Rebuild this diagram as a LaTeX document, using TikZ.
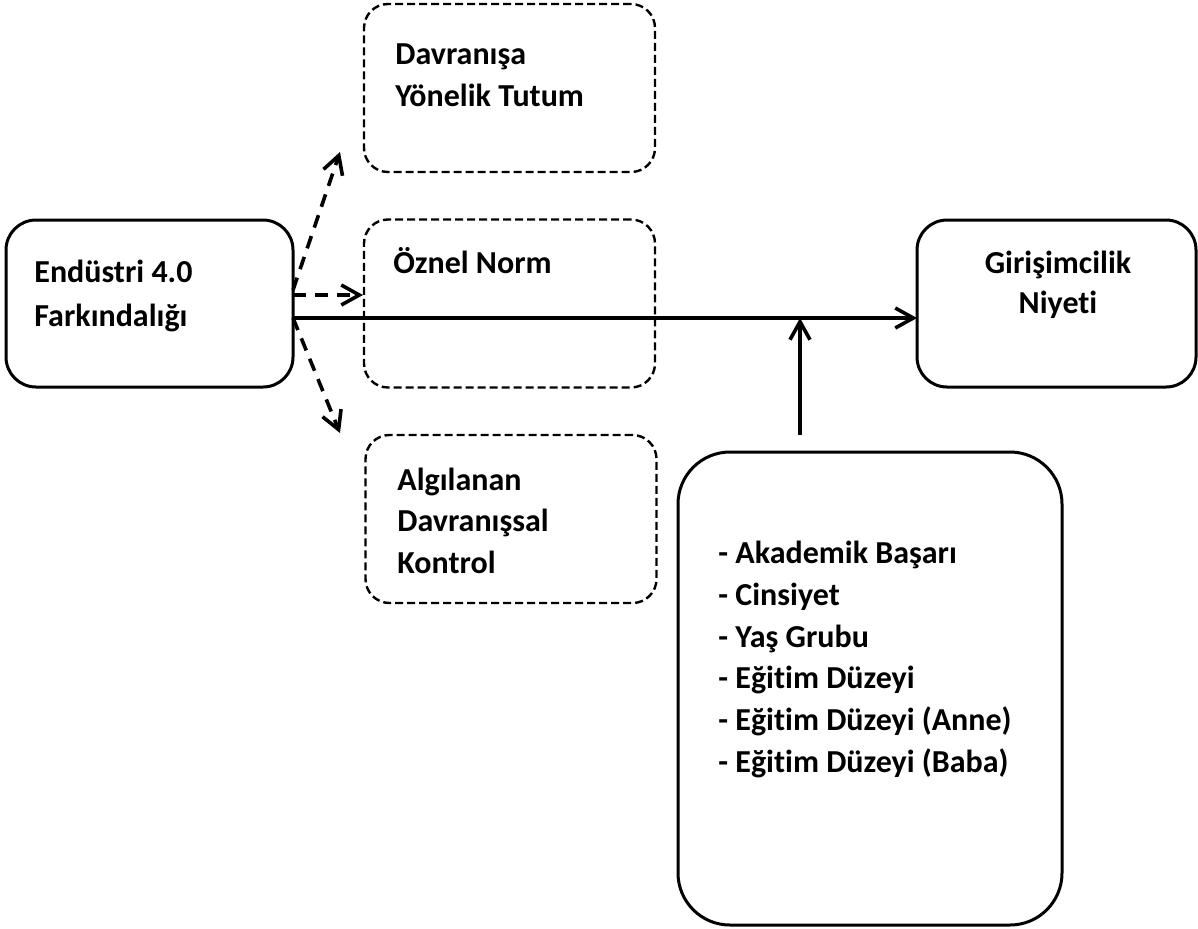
\documentclass[tikz,border=0pt]{standalone}
\usepackage{fontspec}
\setmainfont{Carlito}[Ligatures=NoCommon]
\usetikzlibrary{arrows.meta}
\begin{document}
\begin{tikzpicture}[x=0.5pt,y=-0.5pt,
  solidbox/.style={draw, line width=1.5pt, rounded corners=15pt, inner sep=0pt, outer sep=0pt},
  dashbox/.style={draw, line width=1.2pt, dash pattern=on 4pt off 2pt, rounded corners=12pt, inner sep=0pt, outer sep=0pt, minimum width=145.5pt, minimum height=84pt},
  lbl/.style={inner sep=0pt, anchor=base west, font=\fontsize{16}{21}\selectfont\bfseries},
  clbl/.style={inner sep=0pt, anchor=base, font=\fontsize{16}{21}\selectfont\bfseries},
  tipstyle/.style={-{Straight Barb[length=9pt,width=10pt,line width=1.8pt]}},
  darrow/.style={tipstyle, line width=1.8pt, dash pattern=on 6.5pt off 4.5pt},
  sarrow/.style={tipstyle, line width=1.8pt}
]
\useasboundingbox (0,0) rectangle (1198,928);

% boxes
\node[solidbox, minimum width=143.5pt, minimum height=83.5pt] (endu) at (149.5,303.5) {};
\node[solidbox, minimum width=139.5pt, minimum height=83.5pt] (giri) at (1056.5,303.5) {};
\node[dashbox] (tutum) at (509.5,88) {};
\node[dashbox] (norm) at (509.5,303.5) {};
\node[dashbox] (kontrol) at (511,519) {};
\node[solidbox, rounded corners=26pt, minimum width=192pt, minimum height=236.5pt] (demo) at (870,688.5) {};

% texts
\node[lbl] (e1) at (34,282) {Endüstri 4.0};
\node[lbl] (e2) at (34,326) {Farkındalığı};
\node[lbl] (d1) at (395,64) {Davranışa};
\node[lbl] (d2) at (395,106) {Yönelik Tutum};
\node[lbl] (o1) at (393,273) {Öznel Norm};
\node[lbl] (a1) at (397,490) {Algılanan};
\node[lbl] (a2) at (397,531) {Davranışsal};
\node[lbl] (a3) at (397,573) {Kontrol};
\node[clbl] (g1) at (1058,273) {Girişimcilik};
\node[clbl] (g2) at (1058,313) {Niyeti};
\node[lbl] (k1) at (718,563) {- Akademik Başarı};
\node[lbl] (k2) at (718,605) {- Cinsiyet};
\node[lbl] (k3) at (718,647) {- Yaş Grubu};
\node[lbl] (k4) at (718,688) {- Eğitim Düzeyi};
\node[lbl] (k5) at (718,730) {- Eğitim Düzeyi (Anne)};
\node[lbl] (k6) at (718,772) {- Eğitim Düzeyi (Baba)};

% connector end points
\coordinate (s1) at (293,290);
\coordinate (t1) at (340,152);
\coordinate (s2) at (293,295);
\coordinate (t2) at (363,295);
\coordinate (s3) at (293,318);
\coordinate (t3) at (340,433);
\coordinate (v0) at (800,435);

% connectors
\draw[darrow] (s1) -- (t1);
\draw[darrow] (s2) -- (t2);
\draw[darrow] (s3) -- (t3);
\draw[sarrow] (s3) -- (giri.west |- s3);
\draw[sarrow] (v0) -- (v0 |- s3);
\end{tikzpicture}
\end{document}
